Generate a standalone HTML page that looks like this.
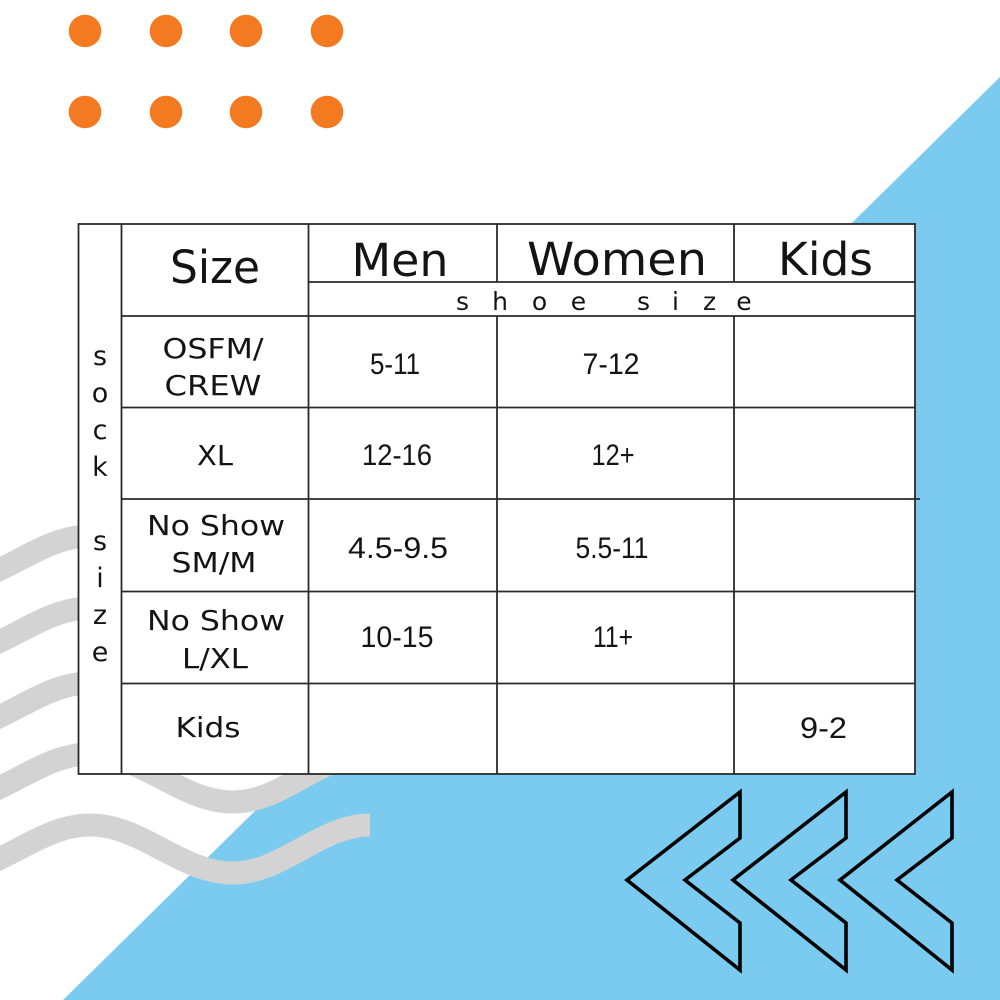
<!DOCTYPE html>
<html><head><meta charset="utf-8"><style>
html,body{margin:0;padding:0;background:#fff;}
svg{display:block;}
text{font-family:"DejaVu Sans","Liberation Sans",sans-serif;fill:#141414;}
.num{font-family:"Liberation Sans","DejaVu Sans",sans-serif;}
</style></head><body>
<svg width="1000" height="1000" viewBox="0 0 1000 1000" xmlns="http://www.w3.org/2000/svg">
<rect width="1000" height="1000" fill="#fff"/>
<polygon points="1000,77 1000,1000 63,1000" fill="#7BCBF1"/>
<g fill="#F47A22">
<circle cx="85" cy="31" r="16.3"/><circle cx="166" cy="31" r="16.3"/><circle cx="246" cy="31" r="16.3"/><circle cx="327" cy="31" r="16.3"/>
<circle cx="85" cy="112" r="16.3"/><circle cx="166" cy="112" r="16.3"/><circle cx="246" cy="112" r="16.3"/><circle cx="327" cy="112" r="16.3"/>
</g>
<g fill="none" stroke="#D3D3D3" stroke-width="23" stroke-linecap="butt">
<path d="M -53 873 C -1 873, 38 825, 90 825 C 142 825, 181 873, 233 873 C 283 873, 320 825, 370 825"/>
<path d="M -53 873 C -1 873, 38 825, 90 825 C 142 825, 181 873, 233 873 C 283 873, 320 825, 370 825" transform="translate(0,-71)"/>
<path d="M -53 873 C -1 873, 38 825, 90 825 C 142 825, 181 873, 233 873 C 283 873, 320 825, 370 825" transform="translate(0,-142)"/>
<path d="M -53 873 C -1 873, 38 825, 90 825 C 142 825, 181 873, 233 873 C 283 873, 320 825, 370 825" transform="translate(0,-217)"/>
<path d="M -53 873 C -1 873, 38 825, 90 825 C 142 825, 181 873, 233 873 C 283 873, 320 825, 370 825" transform="translate(0,-289)"/>
</g>
<g fill="none" stroke="#000" stroke-width="3.6" stroke-linejoin="miter" stroke-miterlimit="10">
<polygon points="740,792 627,880 740,970 740,923 685,880 740,838"/>
<polygon points="846,792 733,880 846,970 846,923 791,880 846,838"/>
<polygon points="952,792 840,880 952,970 952,923 897,880 952,838"/>
</g>
<rect x="78" y="224" width="837" height="550" fill="#fff"/>
<g stroke="#2a2a2a" stroke-width="1.8" fill="none">
<rect x="78.5" y="224" width="836.5" height="550"/>
<line x1="121.5" y1="224" x2="121.5" y2="774"/>
<line x1="308.5" y1="224" x2="308.5" y2="774"/>
<line x1="497" y1="224" x2="497" y2="282"/>
<line x1="734" y1="224" x2="734" y2="282"/>
<line x1="497" y1="316" x2="497" y2="774"/>
<line x1="734" y1="316" x2="734" y2="774"/>
<line x1="308.5" y1="282" x2="915" y2="282"/>
<line x1="121.5" y1="316" x2="915" y2="316"/>
<line x1="121.5" y1="407.5" x2="915" y2="407.5"/>
<line x1="121.5" y1="499" x2="920" y2="499"/>
<line x1="121.5" y1="591.5" x2="915" y2="591.5"/>
<line x1="121.5" y1="683.5" x2="915" y2="683.5"/>
</g>
<g text-anchor="middle">
<text x="215" y="283" font-size="45" textLength="90" lengthAdjust="spacingAndGlyphs">Size</text>
<text x="400" y="276" font-size="45" textLength="97" lengthAdjust="spacingAndGlyphs">Men</text>
<text x="617" y="275" font-size="45" textLength="180" lengthAdjust="spacingAndGlyphs">Women</text>
<text x="825.5" y="275" font-size="45" textLength="95" lengthAdjust="spacingAndGlyphs">Kids</text>
</g>
<g text-anchor="middle" font-size="25">
<text x="462.5" y="310">s</text><text x="500" y="310">h</text><text x="539.5" y="310">o</text><text x="578.5" y="310">e</text>
<text x="643.5" y="310">s</text><text x="675.5" y="310">i</text><text x="709.5" y="310">z</text><text x="744" y="310">e</text>
</g>
<g text-anchor="middle" font-size="27">
<text x="100" y="365">s</text><text x="100" y="402">o</text><text x="100" y="439">c</text><text x="100" y="476">k</text>
<text x="100" y="550">s</text><text x="100" y="587">i</text><text x="100" y="624">z</text><text x="100" y="661">e</text>
</g>
<g text-anchor="middle" font-size="28">
<text x="213" y="358" textLength="101" lengthAdjust="spacingAndGlyphs">OSFM/</text>
<text x="213" y="395" textLength="97" lengthAdjust="spacingAndGlyphs">CREW</text>
<text x="215" y="465" textLength="36" lengthAdjust="spacingAndGlyphs">XL</text>
<text x="216" y="535" textLength="138" lengthAdjust="spacingAndGlyphs">No Show</text>
<text x="214" y="572" textLength="85" lengthAdjust="spacingAndGlyphs">SM/M</text>
<text x="216" y="630" textLength="138" lengthAdjust="spacingAndGlyphs">No Show</text>
<text x="215" y="668" textLength="66" lengthAdjust="spacingAndGlyphs">L/XL</text>
<text x="208" y="737" textLength="65" lengthAdjust="spacingAndGlyphs">Kids</text>
</g>
<g text-anchor="middle" font-size="30" class="num">
<text class="num" x="395" y="374" textLength="50" lengthAdjust="spacingAndGlyphs">5-11</text>
<text class="num" x="611" y="374" textLength="57" lengthAdjust="spacingAndGlyphs">7-12</text>
<text class="num" x="397" y="465" textLength="70" lengthAdjust="spacingAndGlyphs">12-16</text>
<text class="num" x="613" y="465" textLength="43" lengthAdjust="spacingAndGlyphs">12+</text>
<text class="num" x="398" y="558" textLength="100" lengthAdjust="spacingAndGlyphs">4.5-9.5</text>
<text class="num" x="612" y="558" textLength="73" lengthAdjust="spacingAndGlyphs">5.5-11</text>
<text class="num" x="397" y="647" textLength="73" lengthAdjust="spacingAndGlyphs">10-15</text>
<text class="num" x="613" y="647" textLength="40" lengthAdjust="spacingAndGlyphs">11+</text>
<text class="num" x="823.5" y="738" textLength="47" lengthAdjust="spacingAndGlyphs">9-2</text>
</g>
</svg>
</body></html>
